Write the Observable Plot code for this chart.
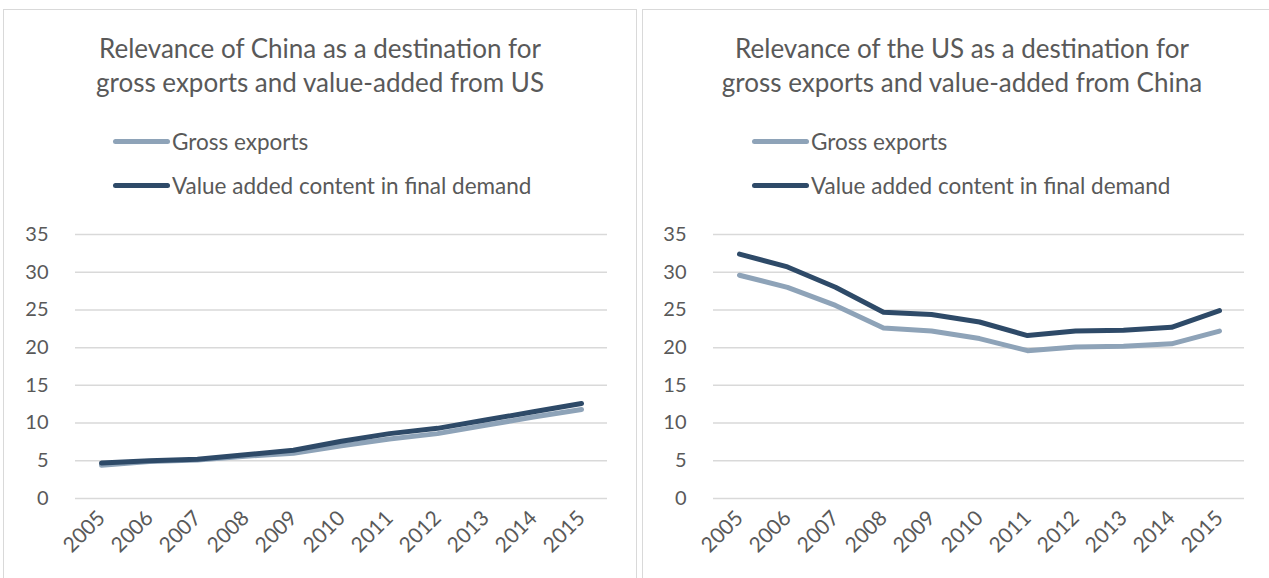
<!DOCTYPE html>
<html>
<head>
<meta charset="utf-8">
<script src="https://cdn.jsdelivr.net/npm/d3@7"></script>
<script src="https://cdn.jsdelivr.net/npm/@observablehq/plot@0.6"></script>
<style>
  html, body { margin: 0; padding: 0; background: #fff; width: 1269px; height: 578px; overflow: hidden; }
  body { position: relative; font-family: Lato, "Open Sans", sans-serif; color: #595959; }
  .panel { position: absolute; top: 9px; height: 620px; border: 1.5px solid #d9d9d9; box-sizing: border-box; background: #fff; }
  .title { position: absolute; left: 0; right: 0; top: 21px; text-align: center; font-size: 26px; line-height: 34px; color: #595959; }
  .legend { position: absolute; font-size: 22.5px; color: #595959; }
  .legend .item { position: absolute; white-space: nowrap; display: flex; align-items: center; height: 26px; }
  .legend .sw { width: 57px; height: 5px; border-radius: 3px; margin-right: 2px; }
</style>
</head>
<body>
<div id="root"></div>
<script>
const years = ["2005","2006","2007","2008","2009","2010","2011","2012","2013","2014","2015"];
const chinaGross = [4.4, 4.9, 5.1, 5.6, 6.0, 7.0, 7.9, 8.6, 9.7, 10.8, 11.8];
const chinaVA    = [4.7, 5.0, 5.2, 5.8, 6.4, 7.6, 8.6, 9.3, 10.4, 11.5, 12.6];
const usGross    = [29.6, 28.0, 25.6, 22.6, 22.2, 21.2, 19.6, 20.1, 20.2, 20.5, 22.2];
const usVA       = [32.4, 30.7, 28.0, 24.7, 24.4, 23.4, 21.6, 22.2, 22.3, 22.7, 24.9];
const yTicks = [0, 5, 10, 15, 20, 25, 30, 35];
const seriesNames = ["Gross exports", "Value added content in final demand"];
const seriesColors = ["#8EA3B8", "#2E4A68"];
const titles = [
  ["Relevance of China as a destination for", "gross exports and value-added from US"],
  ["Relevance of the US as a destination for", "gross exports and value-added from China"]
];

const root = document.getElementById("root");

function rows(vals) { return years.map((y, i) => ({year: y, value: vals[i]})); }

function makePanel(panelLeft, panelWidth, titleLines, svgLeft, svgWidth, mLeft, mRight, gross, va) {
  const panel = document.createElement("div");
  panel.className = "panel";
  panel.style.left = panelLeft + "px";
  panel.style.width = panelWidth + "px";
  root.appendChild(panel);

  const t = document.createElement("div");
  t.className = "title";
  t.innerHTML = titleLines.join("<br>");
  panel.appendChild(t);

  const leg = document.createElement("div");
  leg.className = "legend";
  leg.style.left = "109px";
  leg.style.top = "0px";
  seriesNames.forEach((name, i) => {
    const it = document.createElement("div");
    it.className = "item";
    it.style.top = (118 + i * 44) + "px";
    const sw = document.createElement("span");
    sw.className = "sw";
    sw.style.background = seriesColors[i];
    const tx = document.createElement("span");
    tx.textContent = name;
    it.appendChild(sw); it.appendChild(tx);
    leg.appendChild(it);
  });
  panel.appendChild(leg);

  const chart = Plot.plot({
    width: svgWidth,
    height: 378,
    marginTop: 34,
    marginBottom: 80,
    marginLeft: mLeft,
    marginRight: mRight,
    style: {fontFamily: "Lato, 'Open Sans', sans-serif", fontSize: "20px", color: "#595959", background: "transparent", overflow: "visible"},
    x: {type: "point", domain: years, padding: 0.5, label: null},
    y: {domain: [0, 35], label: null},
    marks: [
      Plot.ruleY(yTicks, {stroke: "#d9d9d9", strokeWidth: 1.5}),
      Plot.axisY({ticks: yTicks, tickSize: 0, tickPadding: 27, label: null}),
      Plot.axisX({tickRotate: -45, tickSize: 0, tickPadding: 16, label: null, fontSize: 21}),
      Plot.line(rows(gross), {x: "year", y: "value", stroke: seriesColors[0], strokeWidth: 5, strokeLinecap: "round", strokeLinejoin: "round"}),
      Plot.line(rows(va), {x: "year", y: "value", stroke: seriesColors[1], strokeWidth: 5, strokeLinecap: "round", strokeLinejoin: "round"})
    ]
  });
  chart.style.position = "absolute";
  chart.style.left = svgLeft + "px";
  chart.style.top = "200px";
  root.appendChild(chart);
}

makePanel(3, 634, titles[0], 0, 636, 75, 29, chinaGross, chinaVA);
makePanel(642, 640, titles[1], 640, 629, 73, 25, usGross, usVA);
</script>
</body>
</html>
